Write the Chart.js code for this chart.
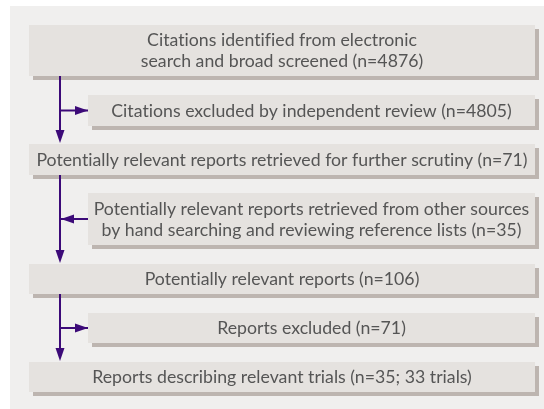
<!DOCTYPE html>
<html><head><meta charset="utf-8">
<script src="https://cdn.jsdelivr.net/npm/chart.js@4.4.1/dist/chart.umd.min.js"></script>
<style>html,body{margin:0;padding:0;background:#fff}#wrap{width:544px;height:409px}</style>
</head><body><div id="wrap"><canvas id="c" width="544" height="409"></canvas></div>
<script>
// Flow steps (text and counts)
const stepText = [
  ["Citations identified from electronic", "search and broad screened"],
  ["Citations excluded by independent review"],
  ["Potentially relevant reports retrieved for further scrutiny"],
  ["Potentially relevant reports retrieved from other sources", "by hand searching and reviewing reference lists"],
  ["Potentially relevant reports"],
  ["Reports excluded"],
  ["Reports describing relevant trials"]
];
const stepCounts = [4876, 4805, 71, 35, 106, 71, 35];
const stepTrials = [null, null, null, null, null, null, 33];
const stepKind = ["main", "out", "main", "in", "main", "out", "main"];

// layout (canvas units used through the chart scales)
const layout = {
  mainLeft: 29, sideLeft: 88, right: 535, spine: 60,
  tops:    [25, 95, 144, 193, 264, 313, 362],
  bottoms: [76, 126, 175, 245, 294, 343, 392]
};

function labelLines(i) {
  const lines = stepText[i].slice();
  const suffix = "(n=" + stepCounts[i] + (stepTrials[i] ? "; " + stepTrials[i] + " trials" : "") + ")";
  lines[lines.length - 1] += " " + suffix;
  return lines;
}

const flowPlugin = {
  id: 'flow',
  beforeDatasetsDraw(chart) {
    const ctx = chart.ctx, xs = chart.scales.x, ys = chart.scales.y;
    const X = v => xs.getPixelForValue(v), Y = v => ys.getPixelForValue(v);
    ctx.save();
    ctx.fillStyle = '#f0efee';
    ctx.fillRect(X(10), Y(6), X(544) - X(10), Y(409) - Y(6));
    for (let i = 0; i < stepText.length; i++) {
      const l = X(stepKind[i] === 'main' ? layout.mainLeft : layout.sideLeft);
      const r = X(layout.right), t = Y(layout.tops[i]), b = Y(layout.bottoms[i]);
      ctx.fillStyle = '#bdb5b0';
      ctx.fillRect(l + 4, t + 4, r - l, b - t);
      ctx.fillStyle = '#e5e2df';
      ctx.fillRect(l, t, r - l, b - t);
      const lines = labelLines(i);
      ctx.fillStyle = '#555555';
      ctx.font = '17.7px Lato, sans-serif';
      try { ctx.letterSpacing = '0.01px'; } catch (e) {}
      ctx.textAlign = 'center';
      ctx.textBaseline = 'middle';
      const cx = (l + r) / 2, cy = (t + b) / 2 + 0.5, lh = 21;
      lines.forEach((s, k) => {
        ctx.fillText(s, cx, cy + (k - (lines.length - 1) / 2) * lh);
      });
    }
    const col = '#3c0a78';
    ctx.strokeStyle = col; ctx.fillStyle = col; ctx.lineWidth = 2;
    const sx = X(layout.spine);
    function head(x, y, dir) {
      ctx.beginPath();
      if (dir === 'down') { ctx.moveTo(x, y); ctx.lineTo(x - 4.5, y - 13); ctx.lineTo(x + 4.5, y - 13); }
      else if (dir === 'right') { ctx.moveTo(x, y); ctx.lineTo(x - 13, y - 4.5); ctx.lineTo(x - 13, y + 4.5); }
      else { ctx.moveTo(x, y); ctx.lineTo(x + 13, y - 4.5); ctx.lineTo(x + 13, y + 4.5); }
      ctx.closePath(); ctx.fill();
    }
    for (let i = 0; i + 2 < stepText.length; i += 2) {
      const y0 = Y(layout.bottoms[i]), y1 = Y(layout.tops[i + 2]) - 1;
      ctx.beginPath(); ctx.moveTo(sx, y0); ctx.lineTo(sx, y1 - 10); ctx.stroke();
      head(sx, y1, 'down');
      const sy = (Y(layout.tops[i + 1]) + Y(layout.bottoms[i + 1])) / 2;
      const bx = X(layout.sideLeft);
      ctx.beginPath(); ctx.moveTo(sx, sy); ctx.lineTo(bx, sy); ctx.stroke();
      if (stepKind[i + 1] === 'out') head(bx, sy, 'right'); else head(sx + 1, sy, 'left');
    }
    ctx.restore();
  }
};

new Chart(document.getElementById('c'), {
  type: 'scatter',
  data: { datasets: [{ data: stepText.map((_, i) => ({ x: (layout.right + (stepKind[i] === 'main' ? layout.mainLeft : layout.sideLeft)) / 2, y: (layout.tops[i] + layout.bottoms[i]) / 2 })), pointRadius: 0 }] },
  options: {
    responsive: false, animation: false, events: [],
    layout: { padding: 0 },
    plugins: { legend: { display: false }, tooltip: { enabled: false } },
    scales: {
      x: { type: 'linear', min: 0, max: 544, display: false },
      y: { type: 'linear', min: 0, max: 409, reverse: true, display: false }
    }
  },
  plugins: [flowPlugin]
});
</script></body></html>
